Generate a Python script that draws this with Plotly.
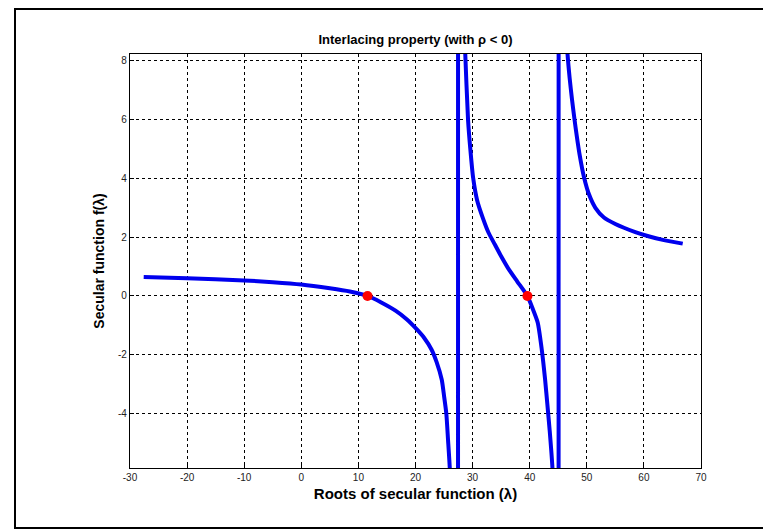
import plotly.graph_objects as go

# Secular function curve (values beyond the axes make the
# steep connecting segments at the poles, as in the original polyline)
lam = [-27.6, -20.0, -10.0, -5.0, 0.0, 5.0, 8.5, 11.6, 14.0, 16.5, 18.5, 20.2, 21.5, 22.8, 23.7,
       24.6, 25.0, 25.4, 25.7, 26.0, 26.6, 27.43,
       27.46, 28.2, 28.7, 29.2, 29.6, 30.1, 30.8, 31.8, 32.8, 33.9, 35.0, 36.2, 37.8, 39.6,
       40.5, 41.4, 42.1, 42.7, 43.1, 43.5, 44.0, 44.5, 45.07,
       45.10, 46.0, 46.6, 47.0, 47.4, 47.85, 48.2, 48.7, 49.5, 50.4, 51.5, 53.0, 55.0, 56.5,
       58.5, 60.8, 63.5, 66.8]
f_lam = [0.65, 0.60, 0.53, 0.47, 0.39, 0.26, 0.15, 0.0, -0.22, -0.5, -0.8, -1.13, -1.42, -1.82, -2.25,
         -2.85, -3.4, -4.0, -4.9, -5.84, -9.0, -60.0,
         60.0, 11.0, 8.3, 6.0, 5.0, 4.01, 3.25, 2.65, 2.15, 1.75, 1.35, 0.95, 0.5, 0.0,
         -0.42, -0.9, -1.8, -2.85, -3.7, -4.58, -5.9, -9.0, -60.0,
         60.0, 11.0, 8.3, 7.4, 6.7, 6.0, 5.5, 4.85, 4.05, 3.45, 3.0, 2.67, 2.45, 2.32,
         2.17, 2.03, 1.9, 1.78]

# Roots marked in red
root_lam = [11.6, 39.6]
root_f = [0.0, 0.0]

x_ticks = [-30, -20, -10, 0, 10, 20, 30, 40, 50, 60, 70]
x_tick_labels = ["-30", "-20", "-10", "0", "10", "20", "30", "40", "50", "60", "70"]
y_ticks = [-4, -2, 0, 2, 4, 6, 8]
y_tick_labels = ["-4", "-2", "0", "2", "4", "6", "8"]

fig = go.Figure()
fig.add_trace(go.Scatter(x=lam, y=f_lam, mode="lines",
                         line=dict(color="#0000ee", width=4, shape="spline", smoothing=0.6),
                         showlegend=False, hoverinfo="skip"))
fig.add_trace(go.Scatter(x=root_lam, y=root_f, mode="markers",
                         marker=dict(color="#ff0000", size=10, symbol="circle"),
                         showlegend=False))

font_family = "Liberation Sans, Arial, sans-serif"
axis_common = dict(showgrid=True, gridcolor="black", griddash="3px,3px", gridwidth=1,
                   showline=True, linecolor="black", linewidth=1.2, mirror=True,
                   zeroline=False, ticks="inside", ticklen=4, tickcolor="black",
                   tickfont=dict(family=font_family, size=10, color="#222"))

fig.update_xaxes(range=[-30, 70], tickvals=x_ticks, ticktext=x_tick_labels,
                 title=dict(text="<b>Roots of secular function (λ)</b>",
                            font=dict(family=font_family, size=15, color="black"),
                            standoff=6),
                 **axis_common)
fig.update_yaxes(range=[-5.85, 8.23], tickvals=y_ticks, ticktext=y_tick_labels,
                 title=dict(text="<b>Secular function f(λ)</b>",
                            font=dict(family=font_family, size=14, color="black"),
                            standoff=10),
                 **axis_common)

fig.update_layout(
    width=771, height=530,
    margin=dict(l=122, r=78, t=46, b=70),
    paper_bgcolor="white", plot_bgcolor="white",
    title=dict(text="<b>Interlacing property (with ρ < 0)</b>",
               font=dict(family=font_family, size=13, color="black"),
               x=0.5, xanchor="center", xref="paper", y=1 - 31 / 530, yanchor="middle"),
    shapes=[dict(type="rect", xref="paper", yref="paper",
                 x0=-0.2014, x1=1.1296, y0=-0.1449, y1=1.1087,
                 line=dict(color="black", width=2), layer="below")],
)

fig.write_html("out.html")
